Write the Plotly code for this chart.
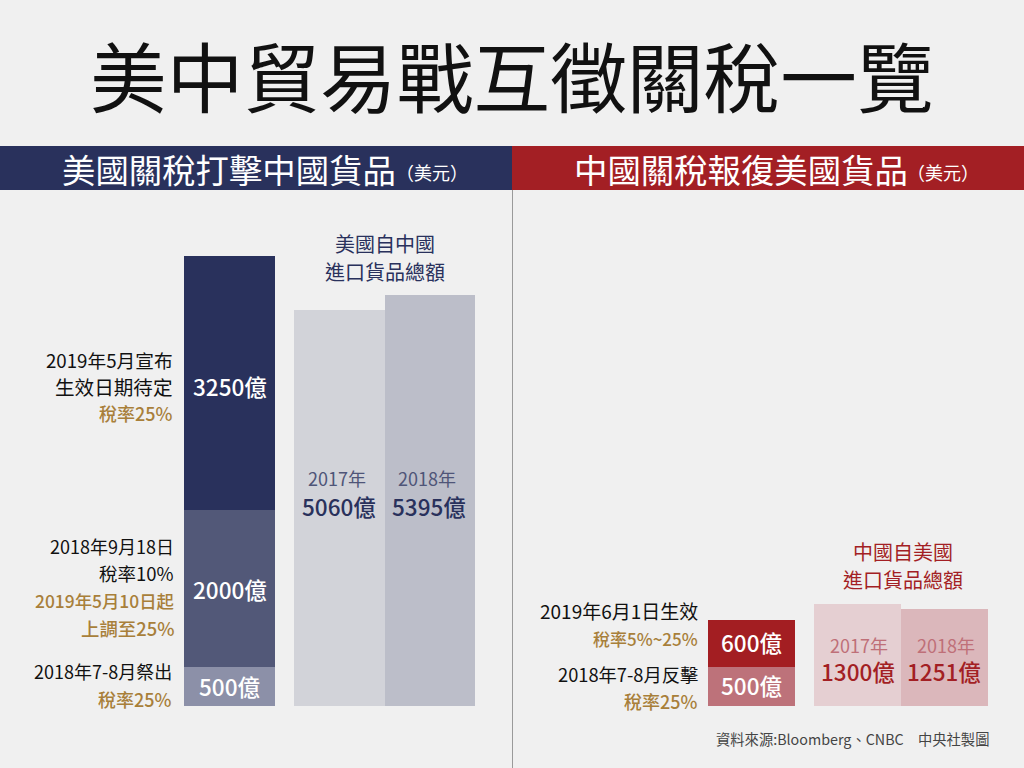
import plotly.graph_objects as go

W, H = 1024, 768
FONT = "Noto Sans CJK TC"

# --- data (億美元) ---
us_tariff_rounds = ["2018年7-8月", "2018年9月18日", "2019年5月"]
us_tariff_values = [500, 2000, 3250]
us_tariff_colors = ["#8c90a8", "#525878", "#29315c"]
us_tariff_labels = ["500億", "2000億", "3250億"]

cn_tariff_rounds = ["2018年7-8月", "2019年6月1日"]
cn_tariff_values = [500, 600]
cn_tariff_colors = ["#bd727a", "#a31e22"]
cn_tariff_labels = ["500億", "600億"]

import_years = ["2017年", "2018年"]
us_import_labels = ["5060億", "5395億"]
us_import_bar_heights = [5060, 5250]   # height as drawn in the picture
us_import_colors = ["#d2d3d9", "#bcbec9"]
cn_import_labels = ["1300億", "1251億"]
cn_import_bar_heights = [1300, 1240]   # height as drawn in the picture
cn_import_colors = ["#e5cfd2", "#dbb7bb"]

NAVY, RED, GOLD = "#29315c", "#a31f24", "#a87f3a"


def px(x):
    return x / W


def py(y):
    return 1 - y / H


fig = go.Figure()
for v, c, name in zip(us_tariff_values, us_tariff_colors, us_tariff_rounds):
    fig.add_bar(x=["美國關稅"], y=[v], marker=dict(color=c, line_width=0), name=name, xaxis="x", yaxis="y")
fig.add_bar(x=import_years, y=us_import_bar_heights, marker=dict(color=us_import_colors, line_width=0),
            name="美國自中國進口", xaxis="x2", yaxis="y")
for v, c, name in zip(cn_tariff_values, cn_tariff_colors, cn_tariff_rounds):
    fig.add_bar(x=["中國關稅"], y=[v], marker=dict(color=c, line_width=0), name=name, xaxis="x3", yaxis="y")
fig.add_bar(x=import_years, y=cn_import_bar_heights, marker=dict(color=cn_import_colors, line_width=0),
            name="中國自美國進口", xaxis="x4", yaxis="y")

ann = []


def text(x, y, s, size, color="#111111", anchor="center", weight=400):
    ann.append(dict(x=px(x), y=py(y), xref="paper", yref="paper", text=s, showarrow=False,
                    xanchor=anchor, yanchor="middle", align=anchor,
                    font=dict(family=FONT, size=size, color=color, weight=weight)))


def dtext(xaxis, cat, yval, s, size, color, shift=0, xshift=0, weight=500, height=None):
    a = dict(x=cat, y=yval, xref=xaxis, yref="y", text=s, showarrow=False, yshift=shift, xshift=xshift,
             xanchor="center", yanchor="middle",
             font=dict(family=FONT, size=size, color=color, weight=weight))
    if height:
        a["height"] = height
    ann.append(a)


# title and headers
text(512, 73, "美中貿易戰互徵關稅一覽", 76.7, "#111111")
text(229, 168, "美國關稅打擊中國貨品", 33.4, "#ffffff")
text(432, 172, "（美元）", 18, "#ffffff")
text(741, 168, "中國關稅報復美國貨品", 33.4, "#ffffff")
text(943, 172, "（美元）", 18, "#ffffff")

# left side labels
for y, s, c, sz, xr in [(359, "2019年5月宣布", "#111111", 18.7, 175), (386, "生效日期待定", "#111111", 19.6, 175),
                        (413, "稅率25%", GOLD, 18, 175),
                        (546, "2018年9月18日", "#111111", 18, 176), (573, "稅率10%", "#111111", 18.5, 176),
                        (600, "2019年5月10日起", GOLD, 17.4, 176), (628, "上調至25%", GOLD, 18.4, 176),
                        (671, "2018年7-8月祭出", "#111111", 18, 174), (699, "稅率25%", GOLD, 18, 174)]:
    text(xr, y, s, sz, c, "right", 500 if c == GOLD else 400)

# right side labels
for y, s, c, sz in [(610, "2019年6月1日生效", "#111111", 19), (638, "稅率5%~25%", GOLD, 17),
                    (674, "2018年7-8月反擊", "#111111", 18.3), (701, "稅率25%", GOLD, 18)]:
    text(700, y, s, sz, c, "right", 500 if c == GOLD else 400)

# import headers
text(385, 243.5, "美國自中國", 20, NAVY)
text(385, 271.5, "進口貨品總額", 20, NAVY)
text(903, 551.5, "中國自美國", 20, RED)
text(903, 579.5, "進口貨品總額", 20, RED)

# labels inside the bars
base = 0
for v, s, sh in zip(us_tariff_values, us_tariff_labels, [0, 0, -3]):
    dtext("x", "美國關稅", base + v / 2, s, 22.5, "#ffffff", shift=sh)
    base += v
base = 0
for v, s in zip(cn_tariff_values, cn_tariff_labels):
    dtext("x3", "中國關稅", base + v / 2, s, 22.5, "#ffffff", shift=1)
    base += v
for yr, s, dy, dv in zip(import_years, us_import_labels, [-2, -3], [0, -1]):
    dtext("x2", yr, 2915, yr, 18, "#4f5578", weight=400, xshift=dy, height=21)
    dtext("x2", yr, 2915, s, 22.5, NAVY, shift=-28, xshift=dv, height=26)
for yr, s, dy, dv in zip(import_years, cn_import_labels, [1, 1], [0, -1]):
    dtext("x4", yr, 790, yr, 18, "#bf6f78", weight=400, xshift=dy, height=21)
    dtext("x4", yr, 790, s, 22.5, RED, shift=-27, xshift=dv, height=26)

# source
text(991, 738, "資料來源:Bloomberg、CNBC　中央社製圖", 14.3, "#444444", "right")

shapes = [
    dict(type="rect", xref="paper", yref="paper", x0=0, x1=0.5, y0=py(190), y1=py(146), fillcolor=NAVY, line_width=0, layer="below"),
    dict(type="rect", xref="paper", yref="paper", x0=0.5, x1=1, y0=py(190), y1=py(146), fillcolor=RED, line_width=0, layer="below"),
    dict(type="line", xref="paper", yref="paper", x0=px(512.5), x1=px(512.5), y0=py(190), y1=0, line=dict(color="#9a9a9a", width=1), layer="below"),
]

hidden = dict(visible=False, fixedrange=True)
fig.update_layout(
    width=W, height=H, margin=dict(l=0, r=0, t=0, b=0, autoexpand=False),
    paper_bgcolor="#f0f0f0", plot_bgcolor="rgba(0,0,0,0)",
    barmode="stack", bargap=0, showlegend=False,
    font=dict(family=FONT),
    xaxis=dict(domain=[px(184), px(275)], anchor="y", **hidden),
    xaxis2=dict(domain=[px(294), px(475)], anchor="y", **hidden),
    xaxis3=dict(domain=[px(708), px(795)], anchor="y", **hidden),
    xaxis4=dict(domain=[px(814), px(988)], anchor="y", **hidden),
    yaxis=dict(domain=[py(706), py(256)], range=[0, 5750], **hidden),
    annotations=ann, shapes=shapes,
)
fig.write_html("out.html", config=dict(displayModeBar=False),
               post_script="document.body.style.margin='0';document.documentElement.style.background='#f0f0f0';")
